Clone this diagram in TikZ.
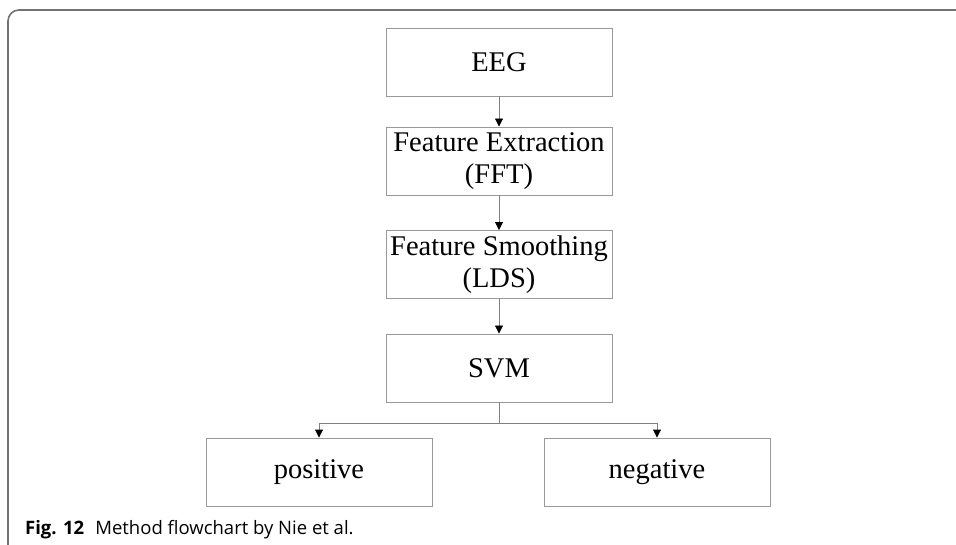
\documentclass[tikz,border=0pt]{standalone}
\usepackage{fontspec}
\setmainfont{Liberation Serif}
\newfontfamily\capfont{Open Sans}
\usetikzlibrary{arrows.meta}
\begin{document}
\begin{tikzpicture}[x=1pt,y=-1pt,
  stage/.style={draw=black!40, line width=0.9pt, minimum width=226pt, minimum height=68pt,
    inner sep=0pt, align=center, font=\fontsize{28.5}{32}\selectfont},
  flow/.style={draw=black!50, line width=0.9pt,
    -{Triangle[width=8pt,length=8pt,color=black]}},
  frameline/.style={draw=black!55, line width=1.6pt, rounded corners=11pt}]
\useasboundingbox (0,0) rectangle (956,545);
% outer panel frame (top and left only)
\draw[frameline] (8,545) -- (8,10) -- (960,10);

% pipeline stages
\node[stage] (eeg) at (499,62) {EEG};
\node[stage] (fe)  at (499,161) {Feature Extraction\\(FFT)};
\node[stage] (fs)  at (499,264.5) {Feature Smoothing\\(LDS)};
\node[stage] (svm) at (499,368) {SVM};
\node[stage] (pos) at (319,472) {positive};
\node[stage] (neg) at (657,472) {negative};

% connectors
\draw[flow] (eeg) -- (fe);
\draw[flow] (fe) -- (fs);
\draw[flow] (fs) -- (svm);
\coordinate (split) at (499,423);
\draw[draw=black!50, line width=0.9pt] (svm.south) -- (split);
\draw[flow] (split) -| (pos.north);
\draw[flow] (split) -| (neg.north);

% caption
\node[anchor=base west, inner sep=0pt, font=\capfont\fontsize{18.5}{22}\selectfont] (cap) at (25,534)
  {\textbf{Fig. 12}\hspace{0.6em}Method flowchart by Nie et al.};
\end{tikzpicture}
\end{document}
